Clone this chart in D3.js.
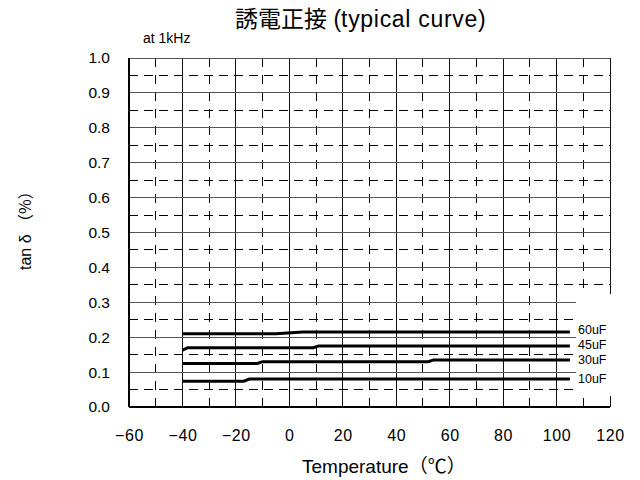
<!DOCTYPE html>
<html>
<head>
<meta charset="utf-8">
<script src="https://cdn.jsdelivr.net/npm/d3@7"></script>
<style>
  body { margin: 0; background: #fff; }
  text { font-family: "Liberation Sans", "Noto Sans CJK JP", sans-serif; fill: #000; }
  .cjk { font-family: "Noto Sans CJK JP", sans-serif; }
</style>
</head>
<body>
<svg id="chart" width="640" height="480"></svg>
<script>
// Dissipation factor vs. temperature, one series per capacitance
const seriesNames = ["60uF", "45uF", "30uF", "10uF"];
const temps60 = [-40, -5, 5, 105];
const vals60  = [0.21, 0.21, 0.215, 0.215];
const temps45 = [-40, -38, 9, 11, 105];
const vals45  = [0.163, 0.17, 0.17, 0.175, 0.175];
const temps30 = [-40, -12, -10, 52, 54, 105];
const vals30  = [0.125, 0.125, 0.13, 0.13, 0.135, 0.135];
const temps10 = [-40, -17, -15, 105];
const vals10  = [0.074, 0.074, 0.08, 0.08];
const xTicks = [-60, -40, -20, 0, 20, 40, 60, 80, 100, 120];
const yTicks = [0, 0.1, 0.2, 0.3, 0.4, 0.5, 0.6, 0.7, 0.8, 0.9, 1.0];

const series = [
  { name: seriesNames[0], t: temps60, v: vals60 },
  { name: seriesNames[1], t: temps45, v: vals45 },
  { name: seriesNames[2], t: temps30, v: vals30 },
  { name: seriesNames[3], t: temps10, v: vals10 }
];

const svg = d3.select("#chart");
const plotL = 129, plotR = 610, plotT = 58, plotB = 407;

const x = d3.scaleLinear().domain([-60, 120]).range([plotL, plotR]);
const y = d3.scaleLinear().domain([0, 1]).range([plotB, plotT]);

const grid = svg.append("g");

// dashed half-step grid
d3.range(-50, 120, 20).forEach(t => {
  grid.append("line").attr("x1", x(t)).attr("x2", x(t)).attr("y1", plotT).attr("y2", plotB)
    .attr("stroke", "#000").attr("stroke-width", 1).attr("stroke-dasharray", "9,8")
    .attr("shape-rendering", "crispEdges");
});
d3.range(0.05, 1, 0.1).forEach(v => {
  grid.append("line").attr("x1", plotL).attr("x2", plotR).attr("y1", y(v)).attr("y2", y(v))
    .attr("stroke", "#000").attr("stroke-width", 1).attr("stroke-dasharray", "9,6")
    .attr("shape-rendering", "crispEdges");
});

// solid major grid
xTicks.forEach(t => {
  grid.append("line").attr("x1", x(t)).attr("x2", x(t)).attr("y1", plotT).attr("y2", plotB)
    .attr("stroke", "#111").attr("stroke-width", 1).attr("shape-rendering", "crispEdges");
});
yTicks.forEach(v => {
  grid.append("line").attr("x1", plotL).attr("x2", plotR).attr("y1", y(v)).attr("y2", y(v))
    .attr("stroke", "#555").attr("stroke-width", 1).attr("shape-rendering", "crispEdges");
});

// axis lines
svg.append("line").attr("x1", plotL).attr("x2", plotL).attr("y1", plotT).attr("y2", plotB)
  .attr("stroke", "#000").attr("stroke-width", 2);
svg.append("line").attr("x1", plotL).attr("x2", plotR).attr("y1", plotB).attr("y2", plotB)
  .attr("stroke", "#000").attr("stroke-width", 2);

// white panel behind the series labels
svg.append("rect").attr("x", 576).attr("y", 294).attr("width", 40).attr("height", 102)
  .attr("fill", "#fff");

// series lines
const line = d3.line().x(d => x(d[0])).y(d => y(d[1]));
const labels = [];
series.forEach(s => {
  const pts = s.t.map((t, i) => [t, s.v[i]]);
  svg.append("path").datum(pts).attr("d", line)
    .attr("fill", "none").attr("stroke", "#000").attr("stroke-width", 3);
  labels.push({ name: s.name, ly: y(pts[pts.length - 1][1]) });
});

// end labels: keep a minimum gap, pushing upper labels upward
const gap = 15;
for (let i = labels.length - 2; i >= 0; i--) {
  if (labels[i + 1].ly - labels[i].ly < gap) labels[i].ly = labels[i + 1].ly - gap;
}
labels.forEach(l => {
  svg.append("text").attr("x", 578).attr("y", l.ly)
    .attr("dy", "0.35em").attr("font-size", 12.5).text(l.name);
});

// axes labels
const xAxis = d3.axisBottom(x).tickValues(xTicks).tickSize(0).tickPadding(23);
const gx = svg.append("g").attr("transform", `translate(0,${plotB})`).call(xAxis);
gx.select(".domain").remove();
gx.selectAll("text").attr("font-size", 16).attr("letter-spacing", 0.6)
  .attr("font-family", "\"Liberation Sans\", sans-serif");

const yAxis = d3.axisLeft(y).tickValues(yTicks).tickFormat(d3.format(".1f")).tickSize(0).tickPadding(19);
const gy = svg.append("g").attr("transform", `translate(${plotL},0)`).call(yAxis);
gy.select(".domain").remove();
gy.selectAll("text").attr("font-size", 15.5)
  .attr("font-family", "\"Liberation Sans\", sans-serif");

// chart title
const title = svg.append("text").attr("x", 235).attr("y", 27).attr("font-size", 23);
title.append("tspan").attr("class", "cjk").text("誘電正接");
title.append("tspan").text(" (");
title.append("tspan").attr("letter-spacing", 0.7).text("typical curve");
title.append("tspan").text(")");

svg.append("text").attr("x", 143).attr("y", 43).attr("font-size", 14).text("at 1kHz");

// axis titles
const xt = svg.append("text").attr("x", 302).attr("y", 473).attr("font-size", 19);
xt.append("tspan").text("Temperature");
xt.append("tspan").attr("class", "cjk").attr("font-size", 19).text("（℃）");

const yt = svg.append("text").attr("transform", "translate(31,270) rotate(-90)").attr("font-size", 16);
yt.append("tspan").text("tan δ ");
yt.append("tspan").attr("class", "cjk").text("（%）");
</script>
</body>
</html>
